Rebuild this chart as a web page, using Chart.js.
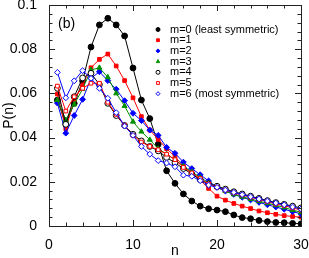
<!DOCTYPE html>
<html>
<head>
<meta charset="utf-8">
<script src="https://cdn.jsdelivr.net/npm/chart.js@4"></script>
<style>
  html, body { margin: 0; padding: 0; background: #fff; }
  #wrap { width: 309px; height: 258px; }
</style>
</head>
<body>
<div id="wrap"><canvas id="chart" width="309" height="258"></canvas></div>
<script>
const nValues = Array.from({length: 30}, (_, i) => i + 1);

const m0 = [0.057, 0.046, 0.0555, 0.0656, 0.081, 0.091, 0.094, 0.091, 0.086, 0.0715, 0.057, 0.0486, 0.037, 0.025, 0.0193, 0.0145, 0.0113, 0.009, 0.0078, 0.0072, 0.0065, 0.005, 0.0038, 0.0033, 0.0025, 0.002, 0.0016, 0.0015, 0.0012, 0.001];
const m1 = [0.0597, 0.044, 0.057, 0.0638, 0.0716, 0.0754, 0.0778, 0.0724, 0.0658, 0.058, 0.0495, 0.0434, 0.0392, 0.035, 0.0314, 0.0271, 0.0241, 0.0208, 0.017, 0.0135, 0.0117, 0.0102, 0.009, 0.0079, 0.0068, 0.006, 0.0053, 0.0047, 0.0043, 0.004];
const m2 = [0.0556, 0.042, 0.05, 0.0573, 0.0668, 0.0698, 0.0658, 0.0619, 0.0567, 0.051, 0.0477, 0.0434, 0.041, 0.0356, 0.0329, 0.0289, 0.026, 0.0232, 0.0204, 0.0175, 0.0158, 0.0143, 0.013, 0.0118, 0.0107, 0.0096, 0.0086, 0.0076, 0.0065, 0.0055];
const m3 = [0.057, 0.048, 0.055, 0.062, 0.0706, 0.0716, 0.0673, 0.06, 0.0543, 0.0472, 0.0427, 0.039, 0.035, 0.0325, 0.03, 0.027, 0.0245, 0.022, 0.0195, 0.0175, 0.0158, 0.0143, 0.0132, 0.0122, 0.0112, 0.0103, 0.0094, 0.0084, 0.0072, 0.0062];
const m4 = [0.0623, 0.046, 0.0585, 0.067, 0.0691, 0.064, 0.0555, 0.05, 0.0455, 0.0415, 0.0385, 0.036, 0.034, 0.031, 0.0286, 0.026, 0.0235, 0.021, 0.019, 0.018, 0.0167, 0.0155, 0.0145, 0.0135, 0.0125, 0.0115, 0.0106, 0.0098, 0.009, 0.0082];
const m5 = [0.0633, 0.052, 0.0585, 0.0623, 0.0646, 0.0646, 0.056, 0.0505, 0.0455, 0.041, 0.038, 0.036, 0.0345, 0.0325, 0.03, 0.0265, 0.024, 0.0215, 0.019, 0.0175, 0.0162, 0.015, 0.014, 0.013, 0.012, 0.011, 0.01, 0.0092, 0.0082, 0.0072];
const m6 = [0.0695, 0.058, 0.0657, 0.0703, 0.0668, 0.0623, 0.0578, 0.0513, 0.0452, 0.041, 0.036, 0.0325, 0.0296, 0.0285, 0.0268, 0.023, 0.0225, 0.0205, 0.0185, 0.0175, 0.0163, 0.0152, 0.0142, 0.0132, 0.0122, 0.0113, 0.0104, 0.0096, 0.0086, 0.0077];

const seriesLabels = ['m=0 (least symmetric)', 'm=1', 'm=2', 'm=3', 'm=4', 'm=5', 'm=6 (most symmetric)'];
const yTicks = [0, 0.02, 0.04, 0.06, 0.08, 0.1];
const xTicks = [0, 10, 20, 30];

const styles = [
    {color: '#000000', shape: 'circle', open: false},
    {color: '#ff0000', shape: 'rect', open: false},
    {color: '#0000ff', shape: 'rectRot', open: false},
    {color: '#009000', shape: 'triangle', open: false},
    {color: '#000000', shape: 'circle', open: true},
    {color: '#ff0000', shape: 'rect', open: true},
    {color: '#0000ff', shape: 'rectRot', open: true}
];

const allSeries = [m0, m1, m2, m3, m4, m5, m6];
const FONT = '"Liberation Sans", Arial, sans-serif';

const datasets = allSeries.map((vals, i) => ({
    label: seriesLabels[i],
    data: vals.map((v, k) => ({x: nValues[k], y: v})),
    borderColor: styles[i].color,
    borderWidth: 1,
    pointStyle: styles[i].shape,
    pointRadius: styles[i].shape === 'rect' ? 2.6 : 2.9,
    pointBorderWidth: 1,
    pointBorderColor: styles[i].color,
    pointBackgroundColor: styles[i].open ? '#ffffff' : styles[i].color,
    showLine: true,
    order: 6 - i
}));

// frame, inward ticks, axis titles, "(b)" and legend
const decorations = {
    id: 'decorations',
    afterDraw(chart) {
        const {ctx, chartArea: a} = chart;
        const xs = chart.scales.x, ys = chart.scales.y;
        ctx.save();
        ctx.strokeStyle = '#222';
        ctx.lineWidth = 1;
        ctx.strokeRect(a.left + 0.5, a.top + 0.5, a.right - a.left, a.bottom - a.top);

        ctx.beginPath();
        for (let v = 0; v <= 30; v += 2) {
            const px = Math.round(xs.getPixelForValue(v)) + 0.5;
            const len = v % 10 === 0 ? 6 : 3.5;
            ctx.moveTo(px, a.bottom); ctx.lineTo(px, a.bottom - len);
            ctx.moveTo(px, a.top); ctx.lineTo(px, a.top + len);
        }
        for (let k = 0; k <= 25; k++) {
            const v = k * 0.004;
            const py = Math.round(ys.getPixelForValue(v)) + 0.5;
            const len = k % 5 === 0 ? 6 : 3.5;
            ctx.moveTo(a.left, py); ctx.lineTo(a.left + len, py);
            ctx.moveTo(a.right, py); ctx.lineTo(a.right - len, py);
        }
        ctx.stroke();

        ctx.fillStyle = '#000';
        ctx.font = '14px ' + FONT;
        ctx.textBaseline = 'middle';
        ctx.textAlign = 'center';
        ctx.fillText('n', (a.left + a.right) / 2, 251);
        ctx.save();
        ctx.translate(9, (a.top + a.bottom) / 2);
        ctx.rotate(-Math.PI / 2);
        ctx.fillText('P(n)', 0, 0);
        ctx.restore();

        ctx.textAlign = 'left';
        ctx.fillText('(b)', 58, 24);

        ctx.font = '11px ' + FONT;
        seriesLabels.forEach((label, i) => {
            const y = 29.5 + i * 10.7;
            const st = styles[i];
            ctx.lineWidth = 1;
            ctx.strokeStyle = st.color;
            ctx.fillStyle = st.open ? '#ffffff' : st.color;
            Chart.helpers.drawPoint(ctx, {pointStyle: st.shape, radius: 2, borderWidth: 1}, 158, y);
            ctx.fillStyle = '#000';
            ctx.fillText(label, 170, y);
        });
        ctx.restore();
    }
};

new Chart(document.getElementById('chart'), {
    type: 'scatter',
    data: {datasets},
    options: {
        responsive: false,
        animation: false,
        layout: {padding: {top: 5, right: 8, left: 0, bottom: 0}},
        plugins: {legend: {display: false}, tooltip: {enabled: false}},
        scales: {
            x: {
                type: 'linear', min: 0, max: 30,
                afterBuildTicks: s => { s.ticks = xTicks.map(v => ({value: v})); },
                afterFit: s => { s.height = 32; s.paddingLeft = 0; s.paddingRight = 0; },
                grid: {display: false}, border: {display: false},
                ticks: {color: '#000', padding: 3, maxRotation: 0, font: {size: 14, family: FONT}}
            },
            y: {
                type: 'linear', min: 0, max: 0.1,
                afterBuildTicks: s => { s.ticks = yTicks.map(v => ({value: v})); },
                afterFit: s => { s.width = 49; s.paddingTop = 0; s.paddingBottom = 0; },
                grid: {display: false}, border: {display: false},
                ticks: {color: '#000', padding: 4, font: {size: 14, family: FONT},
                    callback: v => String(Number(v.toFixed(2)))}
            }
        }
    },
    plugins: [decorations]
});
</script>
</body>
</html>
